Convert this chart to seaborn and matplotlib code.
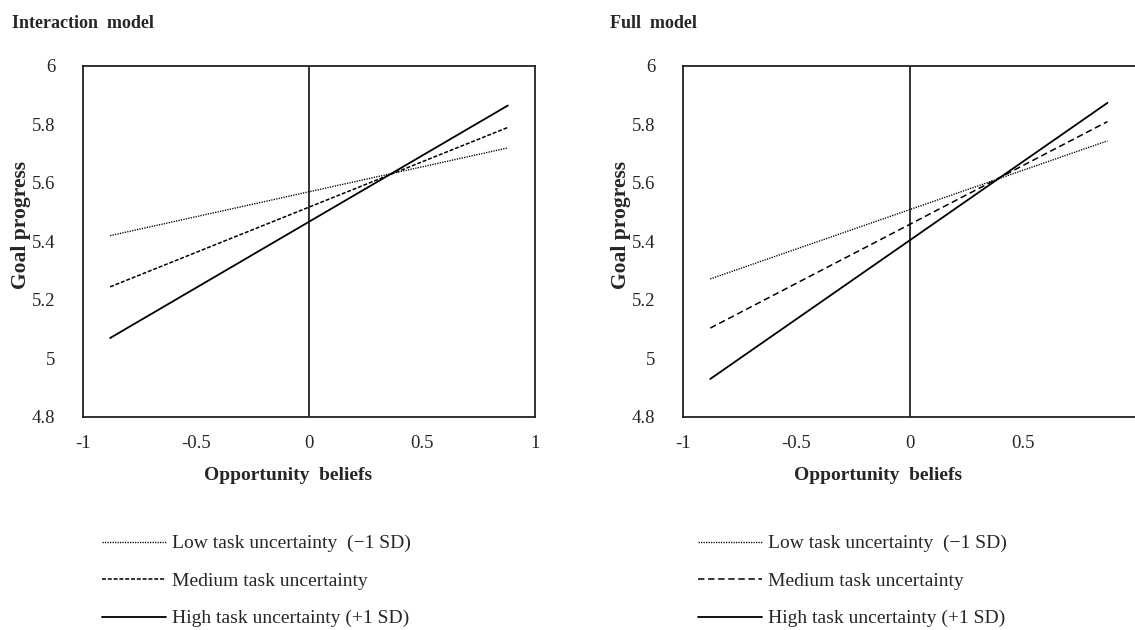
import matplotlib
matplotlib.use("Agg")
import matplotlib.pyplot as plt
import seaborn as sns
import pandas as pd

# Simple slopes of goal progress on opportunity beliefs at three levels of task uncertainty
panel_titles = ["Interaction  model", "Full  model"]
x_left_panel = [-0.88, 0.88]
x_right_panel = [-0.88, 0.87]
series_labels = [
    "Low task uncertainty  (\u22121 SD)",
    "Medium task uncertainty",
    "High task uncertainty (+1 SD)",
]
interaction_low = [5.42, 5.72]
interaction_medium = [5.245, 5.79]
interaction_high = [5.07, 5.865]
full_low = [5.272, 5.744]
full_medium = [5.104, 5.81]
full_high = [4.93, 5.874]
x_ticks_left = [-1, -0.5, 0, 0.5, 1]
x_tick_labels_left = ["-1", "-0.5", "0", "0.5", "1"]
x_ticks_right = [-1, -0.5, 0, 0.5]
x_tick_labels_right = ["-1", "-0.5", "0", "0.5"]
y_ticks = [4.8, 5.0, 5.2, 5.4, 5.6, 5.8, 6.0]
y_tick_labels = ["4.8", "5", "5.2", "5.4", "5.6", "5.8", "6"]
x_label = "Opportunity  beliefs"
y_label = "Goal progress"

sns.set_style("white")
plt.rcParams["font.family"] = ["Liberation Serif", "DejaVu Serif"]

W, H = 1135, 630
fig = plt.figure(figsize=(W / 100, H / 100), dpi=100)

panels = [
    dict(title=panel_titles[0], xs=x_left_panel,
         ys=[interaction_low, interaction_medium, interaction_high],
         rect=[83 / W, 1 - 417 / H, 452 / W, 351 / H],
         ticks=x_ticks_left, tick_labels=x_tick_labels_left,
         dashes=[(0, (0.9, 0.9)), (0, (2.6, 1.2)), "-"],
         title_x=12, xlabel_x=288, ylabel_x=21, leg_x=102),
    dict(title=panel_titles[1], xs=x_right_panel,
         ys=[full_low, full_medium, full_high],
         rect=[683 / W, 1 - 417 / H, 454 / W, 351 / H],
         ticks=x_ticks_right, tick_labels=x_tick_labels_right,
         dashes=[(0, (0.9, 0.9)), (0, (4.2, 2.4)), "-"],
         title_x=610, xlabel_x=878, ylabel_x=621, leg_x=698),
]

widths = [1.0, 1.1, 1.3]

for p in panels:
    ax = fig.add_axes(p["rect"])
    for label, ys, ls, lw in zip(series_labels, p["ys"], p["dashes"], widths):
        df = pd.DataFrame({"x": p["xs"], "y": ys})
        sns.lineplot(data=df, x="x", y="y", ax=ax, color="black",
                     linestyle=ls, linewidth=lw, label=label)
    ax.axvline(0, color="#222222", linewidth=1.3, zorder=1)
    ax.set_xlim(-1, 1)
    ax.set_ylim(4.8, 6.0)
    ax.set_xticks(p["ticks"])
    ax.set_xticklabels(p["tick_labels"])
    ax.set_yticks(y_ticks)
    ax.set_yticklabels(y_tick_labels)
    ax.set_xlabel("")
    ax.set_ylabel("")
    ax.tick_params(axis="x", direction="out", length=5, width=1.2,
                   color="black", labelsize=13.5, pad=8)
    ax.tick_params(axis="y", length=0, labelsize=13.5, pad=20)
    for s in ax.spines.values():
        s.set_color("#222222")
        s.set_linewidth(1.3)
        s.set_visible(True)
    ax.grid(False)

    fig.text(p["title_x"] / W, 1 - 24 / H, p["title"], fontsize=13,
             fontweight="bold", ha="left", va="center")
    fig.text(p["xlabel_x"] / W, 1 - 475 / H, x_label, fontsize=14,
             fontweight="bold", ha="center", va="center")
    fig.text(p["ylabel_x"] / W, 1 - 225 / H, y_label, fontsize=15.5,
             fontweight="bold", ha="center", va="center", rotation=90)

    handles, labels = ax.get_legend_handles_labels()
    ax.legend(handles, labels, loc="upper left",
              bbox_to_anchor=((p["leg_x"] - 8) / W, 1 - 527 / H),
              bbox_transform=fig.transFigure, frameon=False, fontsize=14,
              handlelength=3.3, handletextpad=0.3, labelspacing=1.02,
              borderaxespad=0, borderpad=0.4)

fig.savefig("out.png", dpi=100)
